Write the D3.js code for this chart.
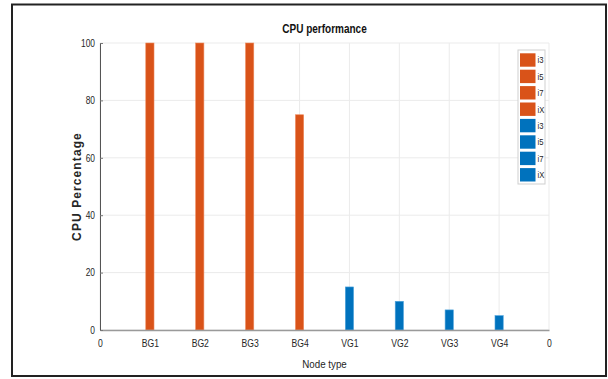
<!DOCTYPE html>
<html>
<head>
<meta charset="utf-8">
<script src="https://cdn.jsdelivr.net/npm/d3@7"></script>
<style>
  html, body { margin: 0; padding: 0; background: #fff; }
  svg { display: block; }
  .narrow { font-family: "Liberation Sans Narrow", "Arial Narrow", "Liberation Sans", Arial, sans-serif; }
</style>
</head>
<body>
<svg id="chart" width="608" height="379"></svg>
<script>
// Node types and their CPU usage (%)
const categories = ["BG1", "BG2", "BG3", "BG4", "VG1", "VG2", "VG3", "VG4"];
const groups     = ["BG",  "BG",  "BG",  "BG",  "VG",  "VG",  "VG",  "VG"];
const cpuValues  = [100,   100,   100,   75,    15,    10,    7,     5];

// Tick labels
const xTickLabels = ["0", "BG1", "BG2", "BG3", "BG4", "VG1", "VG2", "VG3", "VG4", "0"];
const yTicks = [0, 20, 40, 60, 80, 100];

// Legend entries
const legendLabels = ["i3", "i5", "i7", "iX", "i3", "i5", "i7", "iX"];
const legendGroups = ["BG", "BG", "BG", "BG", "VG", "VG", "VG", "VG"];

const colors = { BG: "#D95319", VG: "#0072BD" };
const edges  = { BG: "#EE8A5E", VG: "#4DA3DC" };

const svg = d3.select("#chart");
const plot = { left: 100, right: 549, top: 43, bottom: 330 };

const x = d3.scaleLinear().domain([0, xTickLabels.length - 1]).range([plot.left, plot.right]);
const y = d3.scaleLinear().domain([0, 100]).range([plot.bottom, plot.top]);

// Squeeze text horizontally to a condensed look
function condense(sel, k) {
  sel.each(function () {
    const len = this.getComputedTextLength();
    if (len > 0) {
      d3.select(this).attr("textLength", len * k).attr("lengthAdjust", "spacingAndGlyphs");
    }
  });
}

// Outer frame
svg.append("rect")
  .attr("x", 12).attr("y", 4.5).attr("width", 594).attr("height", 371.5)
  .attr("fill", "#fff").attr("stroke", "#222").attr("stroke-width", 2);

const clip = svg.append("defs").append("clipPath").attr("id", "inner");
clip.append("rect").attr("x", 13).attr("y", 5).attr("width", 592).attr("height", 365.5);

const g = svg.append("g").attr("clip-path", "url(#inner)");

// Grid lines
g.append("g").selectAll("line")
  .data(d3.range(xTickLabels.length))
  .join("line")
  .attr("x1", d => x(d)).attr("x2", d => x(d))
  .attr("y1", plot.top).attr("y2", plot.bottom)
  .attr("stroke", "#ebebeb").attr("stroke-width", 1);

g.append("g").selectAll("line")
  .data(yTicks)
  .join("line")
  .attr("x1", plot.left).attr("x2", plot.right)
  .attr("y1", d => y(d)).attr("y2", d => y(d))
  .attr("stroke", "#ebebeb").attr("stroke-width", 1);

// Bars
const barW = x(0.165) - x(0);
g.append("g").selectAll("rect")
  .data(cpuValues)
  .join("rect")
  .attr("x", (d, i) => x(i + 1) - barW / 2)
  .attr("y", d => y(d))
  .attr("width", barW)
  .attr("height", d => y(0) - y(d))
  .attr("fill", (d, i) => colors[groups[i]])
  .attr("stroke", (d, i) => edges[groups[i]])
  .attr("stroke-width", 0.6);

// Axes
const xAxis = d3.axisBottom(x)
  .tickValues(d3.range(xTickLabels.length))
  .tickFormat(i => xTickLabels[i])
  .tickSize(0).tickPadding(10);
const xa = g.append("g").attr("transform", `translate(0,${plot.bottom})`).call(xAxis);
xa.select(".domain").attr("stroke", "#9a9a9a").attr("stroke-width", 1.5);
xa.selectAll("text").attr("class", "narrow").attr("font-size", 10.5).attr("fill", "#262626").call(condense, 0.82);

const yAxis = d3.axisLeft(y).tickValues(yTicks).tickSize(-3).tickPadding(5);
const ya = g.append("g").attr("transform", `translate(${plot.left},0)`).call(yAxis);
ya.select(".domain").attr("stroke", "#555").attr("stroke-width", 1);
ya.selectAll(".tick line").attr("stroke", "#777");
ya.selectAll("text").attr("class", "narrow").attr("font-size", 10.5).attr("fill", "#262626").call(condense, 0.8);

// Title and axis labels
g.append("text")
  .attr("class", "narrow")
  .attr("x", (plot.left + plot.right) / 2).attr("y", 33)
  .attr("text-anchor", "middle")
  .attr("font-size", 12.5).attr("font-weight", "bold").attr("fill", "#111")
  .text("CPU performance")
  .call(condense, 0.8);

g.append("text")
  .attr("class", "narrow")
  .attr("x", (plot.left + plot.right) / 2).attr("y", 368)
  .attr("text-anchor", "middle")
  .attr("font-size", 11.5).attr("fill", "#262626")
  .text("Node type")
  .call(condense, 0.85);

g.append("text")
  .attr("transform", `translate(81,${(plot.top + plot.bottom) / 2}) rotate(-90)`)
  .attr("text-anchor", "middle")
  .attr("font-family", "'Liberation Sans', Arial, sans-serif")
  .attr("font-size", 12).attr("font-weight", "bold").attr("letter-spacing", 1.1)
  .attr("fill", "#262626")
  .text("CPU Percentage");

// Legend
const lg = g.append("g");
lg.append("rect")
  .attr("x", 518).attr("y", 50).attr("width", 27).attr("height", 134)
  .attr("fill", "#fff").attr("stroke", "#cfcfcf").attr("stroke-width", 1);
const items = lg.selectAll("g")
  .data(legendLabels)
  .join("g")
  .attr("transform", (d, i) => `translate(520,${53.3 + i * 16.4})`);
items.append("rect")
  .attr("width", 15.5).attr("height", 13.4)
  .attr("fill", (d, i) => colors[legendGroups[i]]);
items.append("text")
  .attr("class", "narrow")
  .attr("x", 17.5).attr("y", 10)
  .attr("font-size", 9).attr("fill", "#222")
  .text(d => d)
  .call(condense, 0.85);
</script>
</body>
</html>
